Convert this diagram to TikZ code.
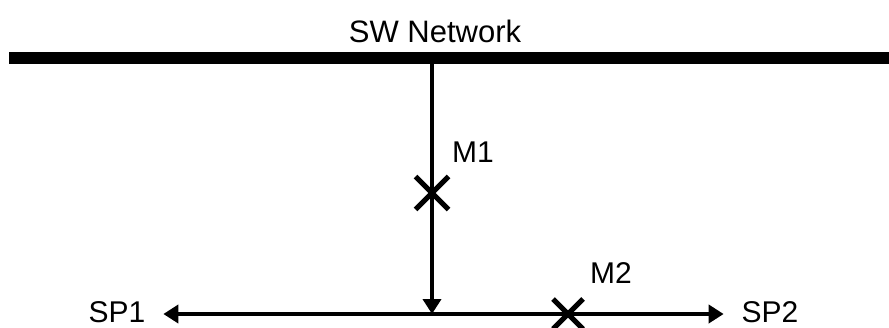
\documentclass[tikz,border=0pt]{standalone}
\usepackage{fontspec}
\setmainfont{Liberation Sans}
\usetikzlibrary{arrows.meta,shapes.misc}
\tikzset{
  wire/.style={line width=4.5pt},
  feed/.style={wire,-{Triangle[length=15pt,width=18pt]}},
  meter/.style={cross out,draw,line width=5pt,minimum size=28pt,inner sep=0pt},
  tag/.style={font=\fontsize{30}{36}\selectfont,inner sep=0pt},
  port/.style={tag,outer sep=18pt}
}
\begin{document}
\begin{tikzpicture}[x=1pt,y=-1pt]
\useasboundingbox[fill=white] (0,0) rectangle (889,327);
% network bus
\draw[line width=12pt] (9,58) -- (889,58);
\node[tag,font=\fontsize{31}{36}\selectfont] (bus) at (435,31) {SW Network};
\coordinate (tap) at (432,64);
\coordinate (hub) at (432,314);
% end points
\node[port] (sp1) at (117,312.5) {SP1};
\node[port] (sp2) at (770,312.5) {SP2};
\draw[feed] (tap) -- (hub);
\draw[feed] (hub) -- (sp1.east |- hub);
\draw[feed] (hub) -- (sp2.west |- hub);
% meters
\node[meter] (m1) at (432,193) {};
\node[meter,minimum size=25pt] (m2) at (568,314) {};
\node[tag] (m1tag) at (473,152) {M1};
\node[tag] (m2tag) at (611,273) {M2};
\end{tikzpicture}
\end{document}
